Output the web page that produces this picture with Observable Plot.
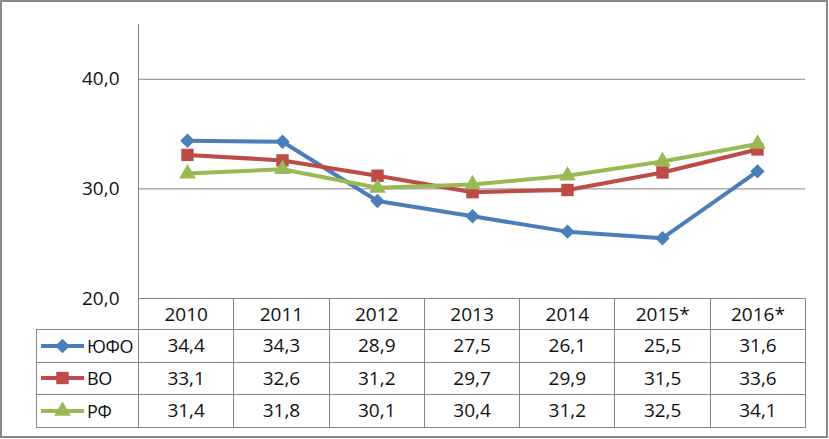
<!DOCTYPE html>
<html>
<head>
<meta charset="utf-8">
<script src="https://cdn.jsdelivr.net/npm/d3@7"></script>
<script src="https://cdn.jsdelivr.net/npm/@observablehq/plot@0.6"></script>
<style>
  html, body { margin: 0; padding: 0; background: #fff; }
  #wrap { position: relative; width: 829px; height: 439px; overflow: hidden; background: #fff;
          font-family: "Open Sans", sans-serif; color: #111; }
  #chart { position: absolute; left: 0; top: 0; }
  #border { position: absolute; left: 0; top: 0; width: 828px; height: 438px; box-sizing: border-box;
            border: 2px solid #8a8a8a; pointer-events: none; }
  #tbl { position: absolute; left: 36px; top: 298px; border-collapse: collapse; table-layout: fixed;
         width: 769px; font-size: 19px; }
  #tbl td { border: 1px solid #868686; text-align: center; vertical-align: middle; padding: 0; line-height: 1; }
  #tbl tr.head td { height: 30px; }
  #tbl tr.row td { height: 31.5px; }
  #tbl td.corner { border-top: none; border-left: none; }
  #tbl td.lab { text-align: left; }
  .labwrap { display: flex; align-items: center; padding-left: 4px; }
  .labwrap span { margin-left: 3px; font-size: 18px; letter-spacing: -0.3px; }
</style>
</head>
<body>
<div id="wrap">
  <div id="chart"></div>
  <table id="tbl"></table>
  <div id="border"></div>
</div>
<script>
const years = ["2010", "2011", "2012", "2013", "2014", "2015*", "2016*"];
const seriesNames = ["ЮФО", "ВО", "РФ"];
const ufo = [34.4, 34.3, 28.9, 27.5, 26.1, 25.5, 31.6];
const vo  = [33.1, 32.6, 31.2, 29.7, 29.9, 31.5, 33.6];
const rf  = [31.4, 31.8, 30.1, 30.4, 31.2, 32.5, 34.1];
const yTicks = [20, 30, 40];

const seriesValues = [ufo, vo, rf];
const colors = ["#4A7EBB", "#BE4B48", "#98B954"];
const symbols = ["diamond2", "square", "triangle"];
const d3symbols = [d3.symbolDiamond2, d3.symbolSquare, d3.symbolTriangle];
const radii = [6.5, 7, 6.2];

const fmt = v => v.toFixed(1).replace(".", ",");

const rows = [];
seriesNames.forEach((s, i) => years.forEach((y, j) => rows.push({series: s, year: y, value: seriesValues[i][j]})));

const marks = [
  Plot.ruleY([30, 40], {stroke: "#868686", strokeWidth: 1}),
  Plot.frame({anchor: "left", stroke: "#868686", strokeWidth: 1}),
  Plot.axisY(yTicks, {tickSize: 0, tickPadding: 19, tickFormat: fmt, fontSize: 19, fill: "#111", label: null})
];
seriesNames.forEach((s, i) => {
  const data = rows.filter(d => d.series === s);
  marks.push(Plot.line(data, {x: "year", y: "value", stroke: colors[i], strokeWidth: 4}));
  marks.push(Plot.dot(data, {x: "year", y: "value", symbol: () => symbols[i], fill: colors[i], r: radii[i], stroke: "none"}));
});

const chart = Plot.plot({
  width: 829, height: 439,
  marginLeft: 138, marginRight: 24, marginTop: 24, marginBottom: 141,
  x: {type: "point", domain: years, padding: 0.5, axis: null},
  y: {domain: [20, 45], axis: null, label: null},
  symbol: {type: "identity"},
  style: {fontFamily: "Open Sans, sans-serif", fontSize: "19px", background: "transparent", color: "#111"},
  marks
});
document.getElementById("chart").appendChild(chart);

// data table
const tbl = d3.select("#tbl");
const cg = tbl.append("colgroup");
cg.append("col").style("width", "102px");
years.forEach(() => cg.append("col").style("width", "95.3px"));
const head = tbl.append("tr").attr("class", "head");
head.append("td").attr("class", "corner");
years.forEach(y => head.append("td").text(y));
seriesNames.forEach((s, i) => {
  const tr = tbl.append("tr").attr("class", "row");
  const lab = tr.append("td").attr("class", "lab").append("div").attr("class", "labwrap");
  const svg = lab.append("svg").attr("width", 43).attr("height", 18);
  svg.append("line").attr("x1", 0).attr("x2", 43).attr("y1", 9).attr("y2", 9)
     .attr("stroke", colors[i]).attr("stroke-width", 4);
  svg.append("path").attr("transform", "translate(21.5,9)")
     .attr("d", d3.symbol(d3symbols[i], Math.PI * radii[i] * radii[i])())
     .attr("fill", colors[i]);
  lab.append("span").text(s);
  seriesValues[i].forEach(v => tr.append("td").text(fmt(v)));
});
</script>
</body>
</html>
